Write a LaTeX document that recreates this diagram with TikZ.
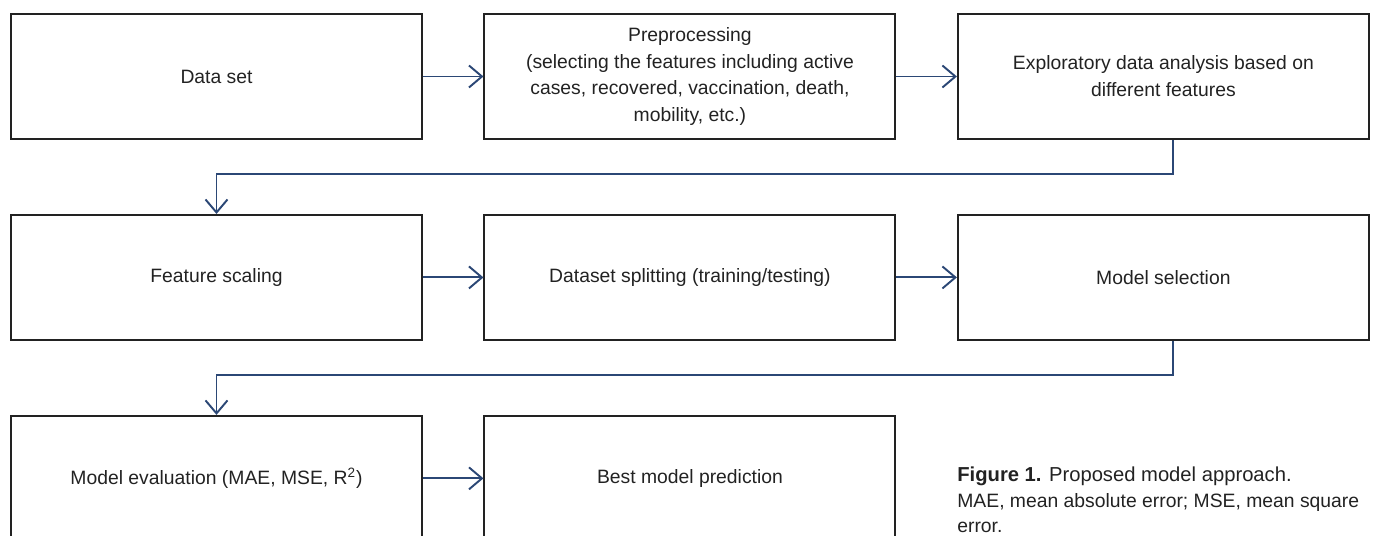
\documentclass[tikz,border=0pt]{standalone}
\usepackage{fontspec}
\setmainfont{Liberation Sans}
\usepackage{xcolor}
\usetikzlibrary{arrows.meta, positioning, calc}
\definecolor{boxgray}{HTML}{222222}
\definecolor{flowblue}{HTML}{2B4775}

\begin{document}
\begin{tikzpicture}[
  box/.style={rectangle, draw=boxgray, line width=1.1pt, minimum width=8.22cm, minimum height=2.5cm, inner sep=0pt, align=center, text=boxgray, font=\fontsize{11}{15.3}\selectfont},
  arrow/.style={-{Straight Barb[length=2.6mm, width=4.4mm]}, draw=flowblue, line width=1.1pt}
]
  \useasboundingbox (0, 0) rectangle (27.46, -10.72);

  % Row 1
  \node[box] (data) at (4.33, -1.53) {Data set};
  \node[box, right=1.21cm of data] (prep) {Preprocessing\\(selecting the features including active\\cases, recovered, vaccination, death,\\mobility, etc.)};
  \node[box, right=1.21cm of prep] (eda) {Exploratory data analysis based on\\different features};

  % Row 2
  \node[box, below=1.48cm of data] (scale) {Feature scaling};
  \node[box, right=1.21cm of scale] (split) {Dataset splitting (training/testing)};
  \node[box, right=1.21cm of split] (select) {Model selection};

  % Row 3
  \node[box, below=1.48cm of scale] (eval) {Model evaluation (MAE, MSE, R\textsuperscript{2})};
  \node[box, right=1.21cm of eval] (best) {Best model prediction};

  % Caption
  \node[anchor=north west, align=left, inner sep=0pt, text=boxgray, font=\fontsize{11.5}{14.5}\selectfont] (cap) at (19.14, -9.34)
    {\textbf{Figure 1.} Proposed model approach.\\{\fontsize{11}{14.5}\selectfont MAE, mean absolute error; MSE, mean square}\\{\fontsize{11}{14.5}\selectfont error.}};

  % Arrows
  \draw[arrow] (data) -- (prep);
  \draw[arrow] (prep) -- (eda);
  \draw[arrow] ([xshift=0.2cm]eda.south) -- ++(0, -0.68) -| (scale.north);
  \draw[arrow] (scale) -- (split);
  \draw[arrow] (split) -- (select);
  \draw[arrow] ([xshift=0.2cm]select.south) -- ++(0, -0.68) -| (eval.north);
  \draw[arrow] (eval) -- (best);
\end{tikzpicture}
\end{document}
